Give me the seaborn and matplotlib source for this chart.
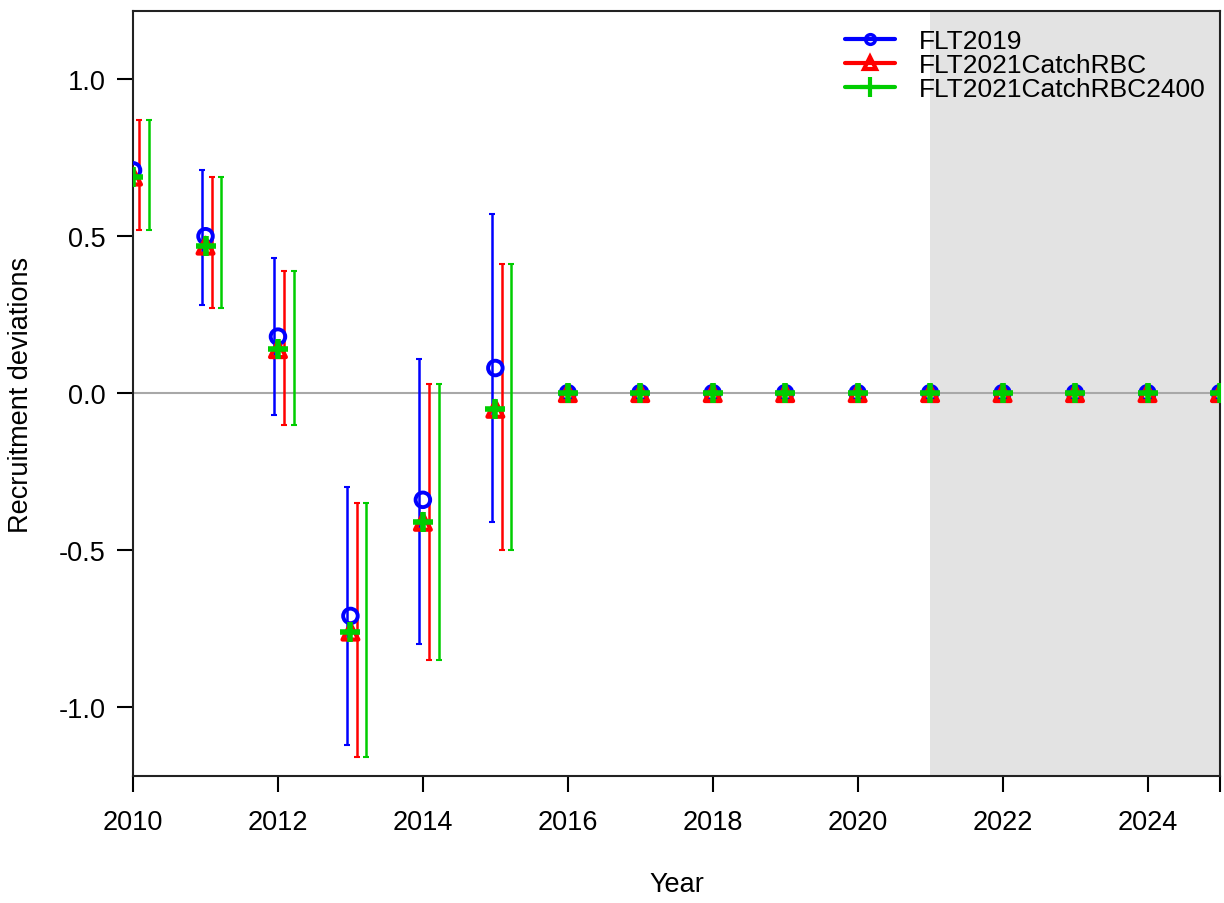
import numpy as np
import pandas as pd
import matplotlib.pyplot as plt
from matplotlib.lines import Line2D
import seaborn as sns

years = list(range(2010, 2026))
ci_years = [2010, 2011, 2012, 2013, 2014, 2015]

flt2019 = [0.71, 0.50, 0.18, -0.71, -0.34, 0.08, 0, 0, 0, 0, 0, 0, 0, 0, 0, 0]
flt2019_lo = [0.51, 0.28, -0.07, -1.12, -0.80, -0.41]
flt2019_hi = [0.89, 0.71, 0.43, -0.30, 0.11, 0.57]

rbc = [0.69, 0.47, 0.14, -0.76, -0.41, -0.05, 0, 0, 0, 0, 0, 0, 0, 0, 0, 0]
rbc_lo = [0.52, 0.27, -0.10, -1.16, -0.85, -0.50]
rbc_hi = [0.87, 0.69, 0.39, -0.35, 0.03, 0.41]

rbc2400 = [0.69, 0.47, 0.14, -0.76, -0.41, -0.05, 0, 0, 0, 0, 0, 0, 0, 0, 0, 0]
rbc2400_lo = [0.52, 0.27, -0.10, -1.16, -0.85, -0.50]
rbc2400_hi = [0.87, 0.69, 0.39, -0.35, 0.03, 0.41]

labels = ["FLT2019", "FLT2021CatchRBC", "FLT2021CatchRBC2400"]

sns.set_style("ticks")
plt.rcParams['font.family'] = ['Liberation Sans', 'DejaVu Sans']
plt.rcParams['axes.unicode_minus'] = False
plt.rcParams['text.color'] = 'black'
plt.rcParams['axes.labelcolor'] = 'black'

fig = plt.figure(figsize=(12.24, 9.04), dpi=100)
ax = fig.add_axes([0.1087, 0.1405, 0.888, 0.846])

# projection period
ax.axvspan(2021, 2025, color='#e3e3e3', lw=0, zorder=0)
ax.axhline(0, color='#a8a8a8', lw=1.5, zorder=1)

series = [
    (flt2019, flt2019_lo, flt2019_hi, 'blue', 'o', -0.05),
    (rbc, rbc_lo, rbc_hi, 'red', '^', 0.085),
    (rbc2400, rbc2400_lo, rbc2400_hi, '#00cd00', '+', 0.22),
]

for vals, lo, hi, col, mk, off in series:
    est = np.array(vals[:len(ci_years)])
    x = np.array(ci_years) + off
    ax.errorbar(x, est, yerr=[est - np.array(lo), np.array(hi) - est],
                fmt='none', ecolor=col, elinewidth=1.8, capsize=2.5,
                capthick=1.5, zorder=2)

for vals, lo, hi, col, mk, off in series:
    df = pd.DataFrame({"year": years, "dev": vals})
    if mk == '+':
        sns.scatterplot(data=df, x="year", y="dev", marker='+', color=col,
                        s=200, linewidth=4, ax=ax, zorder=3)
    elif mk == 'o':
        sns.scatterplot(data=df, x="year", y="dev", marker='o',
                        facecolor='none', edgecolor=col, s=110, linewidth=2.8,
                        ax=ax, zorder=3)
    else:
        sns.scatterplot(data=df, x="year", y="dev", marker='^',
                        facecolor='none', edgecolor=col, s=130, linewidth=3,
                        ax=ax, zorder=3)

ax.set_xlim(2010, 2025)
ax.set_ylim(-1.22, 1.217)
ax.set_xticks([2010, 2012, 2014, 2016, 2018, 2020, 2022, 2024])
ax.set_xticks([2025], minor=True)
ax.set_yticks([-1.0, -0.5, 0.0, 0.5, 1.0])
ax.set_yticklabels(['-1.0', '-0.5', '0.0', '0.5', '1.0'])
ax.tick_params(axis='both', which='both', direction='out', length=11.5, width=1.5,
               labelsize=19.5, colors='black')
ax.tick_params(axis='x', which='both', pad=12)
ax.tick_params(axis='y', pad=8)
for sp in ax.spines.values():
    sp.set_linewidth(1.5)
    sp.set_color('#222222')

ax.set_xlabel('Year', fontsize=19.5, labelpad=26)
ax.set_ylabel('Recruitment deviations', fontsize=19.5, labelpad=18)

handles = [
    Line2D([], [], color='blue', lw=3, marker='o', mfc='none', mew=2.5, ms=7),
    Line2D([], [], color='red', lw=3, marker='^', mfc='none', mew=3, ms=8),
    Line2D([], [], color='#00cd00', lw=3, marker='+', mew=3, ms=15),
]
ax.legend(handles, labels, loc='upper right', bbox_to_anchor=(1.006, 1.004),
          frameon=False, fontsize=19, labelspacing=0.0, handlelength=1.9,
          handletextpad=0.9, borderaxespad=0.4)

fig.savefig('out.png', dpi=100)
